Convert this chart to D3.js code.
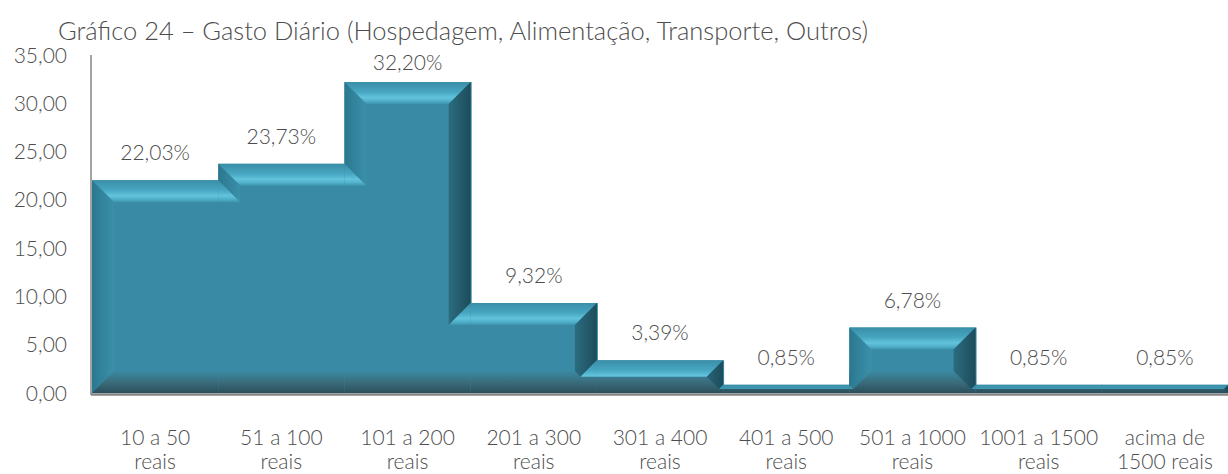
<!DOCTYPE html>
<html>
<head>
<meta charset="utf-8">
<script src="https://cdn.jsdelivr.net/npm/d3@7"></script>
<style>
  body { margin: 0; background: #fff; }
  text { font-family: Lato, "Open Sans", sans-serif; font-weight: 300; fill: #4d4d4d; }
</style>
</head>
<body>
<div id="chart"></div>
<script>
const categories = [
  "10 a 50\nreais", "51 a 100\nreais", "101 a 200\nreais", "201 a 300\nreais",
  "301 a 400\nreais", "401 a 500\nreais", "501 a 1000\nreais", "1001 a 1500\nreais",
  "acima de\n1500 reais"
];
const values = [22.03, 23.73, 32.20, 9.32, 3.39, 0.85, 6.78, 0.85, 0.85];
const yTicks = [0, 5, 10, 15, 20, 25, 30, 35];
const title = "Gráfico 24 – Gasto Diário (Hospedagem, Alimentação, Transporte, Outros)";

const W = 1228, H = 474;
const B = 22; // bevel size

const br = d3.formatLocale({ decimal: ",", thousands: ".", grouping: [3], currency: ["R$", ""] });
const fmtTick = br.format(".2f");
const fmtPct = br.format(".2f");

const svg = d3.select("#chart").append("svg")
  .attr("width", W)
  .attr("height", H);

const defs = svg.append("defs");

const x = d3.scaleBand()
  .domain(categories)
  .range([92, 1228])
  .padding(0);

const y = d3.scaleLinear()
  .domain([0, 35])
  .range([393, 55]);

// title
svg.append("text")
  .attr("x", 58)
  .attr("y", 40)
  .attr("font-size", 25.5)
  .text(title);

// y axis labels
svg.append("g")
  .selectAll("text")
  .data(yTicks)
  .join("text")
  .attr("x", 67)
  .attr("y", d => y(d) + 7.5)
  .attr("text-anchor", "end")
  .attr("font-size", 21)
  .text(d => fmtTick(d));

// keep f(p) >= 0
function clip(poly, f) {
  const out = [];
  for (let i = 0; i < poly.length; i++) {
    const a = poly[i], b = poly[(i + 1) % poly.length];
    const fa = f(a), fb = f(b);
    if (fa >= 0) out.push(a);
    if ((fa >= 0) !== (fb >= 0)) {
      const t = fa / (fa - fb);
      out.push([a[0] + t * (b[0] - a[0]), a[1] + t * (b[1] - a[1])]);
    }
  }
  return out;
}

let gid = 0;
function grad(x1, y1, x2, y2, stops) {
  const id = "g" + (gid++);
  const g = defs.append("linearGradient")
    .attr("id", id)
    .attr("gradientUnits", "userSpaceOnUse")
    .attr("x1", x1).attr("y1", y1).attr("x2", x2).attr("y2", y2);
  stops.forEach(s => g.append("stop").attr("offset", s[0]).attr("stop-color", s[1]));
  return `url(#${id})`;
}

const topStops = [[0, "#3a8ea8"], [0.45, "#47a6c1"], [0.7, "#62c3dd"], [0.85, "#52b1cb"], [1, "#3d93ad"]];
const leftStops = [[0, "#2a7890"], [1, "#3b90a9"]];
const rightStops = [[0, "#1d4c5a"], [1, "#2c6c80"]];
const bottomStops = [[0, "#2b4f5c"], [0.45, "#3a6a79"], [1, "#3a8aa3"]];
const faceColor = "#398ba5";

const n = values.length;
const yb = y(0);

// faces first, slightly overlapping the next band to avoid seams
svg.append("g")
  .selectAll("rect")
  .data(values)
  .join("rect")
  .attr("x", (d, i) => x(categories[i]))
  .attr("y", d => y(d))
  .attr("width", (d, i) => x.bandwidth() + (i < n - 1 ? 1 : 0))
  .attr("height", d => yb - y(d))
  .attr("fill", faceColor);

const bevels = svg.append("g");

values.forEach((v, i) => {
  const x0 = x(categories[i]), x1 = x0 + x.bandwidth();
  const yt = y(v);
  const tl = i > 0 ? y(values[i - 1]) : null;
  const tr = i < n - 1 ? y(values[i + 1]) : null;
  const leftOpen = i === 0 || tl > yt;
  const rightOpen = i === n - 1 || tr > yt;
  const rect = [[x0, yt], [x1, yt], [x1, yb], [x0, yb]];
  const draw = (poly, fill) => {
    if (poly.length > 2) bevels.append("path").attr("d", d3.line()(poly) + "Z").attr("fill", fill);
  };

  // bottom (superset, others paint over it)
  let p = clip(rect, q => q[1] - (yb - B));
  p = clip(p, q => 2 * q[1] - yb - yt);
  draw(p, grad(0, yb, 0, yb - B, bottomStops));

  // top
  p = clip(rect, q => B - (q[1] - yt));
  p = clip(p, q => (yb - q[1]) - (q[1] - yt));
  if (leftOpen) p = clip(p, q => (q[0] - x0) - (q[1] - yt));
  if (rightOpen) p = clip(p, q => (x1 - q[0]) - (q[1] - yt));
  draw(p, grad(0, yt, 0, yt + B, topStops));

  if (leftOpen) {
    p = clip(rect, q => B - (q[0] - x0));
    p = clip(p, q => (q[1] - yt) - (q[0] - x0));
    p = clip(p, q => (yb - q[1]) - (q[0] - x0));
    if (i > 0) p = clip(p, q => (q[0] - x0) - (q[1] - tl));
    draw(p, grad(x0, 0, x0 + B, 0, leftStops));
    if (i > 0) {
      p = clip(rect, q => (q[1] - tl) - (q[0] - x0));
      p = clip(p, q => B - (q[1] - tl));
      p = clip(p, q => (yb - q[1]) - (q[1] - tl));
      draw(p, grad(0, tl, 0, tl + B, topStops));
    }
  }
  if (rightOpen) {
    p = clip(rect, q => B - (x1 - q[0]));
    p = clip(p, q => (q[1] - yt) - (x1 - q[0]));
    p = clip(p, q => (yb - q[1]) - (x1 - q[0]));
    if (i < n - 1) p = clip(p, q => (x1 - q[0]) - (q[1] - tr));
    draw(p, grad(x1, 0, x1 - B, 0, rightStops));
    if (i < n - 1) {
      p = clip(rect, q => (q[1] - tr) - (x1 - q[0]));
      p = clip(p, q => B - (q[1] - tr));
      p = clip(p, q => (yb - q[1]) - (q[1] - tr));
      draw(p, grad(0, tr, 0, tr + B, topStops));
    }
  }
});

// axes lines
svg.append("line")
  .attr("x1", 91).attr("x2", 91)
  .attr("y1", 55).attr("y2", yb + 2)
  .attr("stroke", "#868686").attr("stroke-width", 1.5);
svg.append("line")
  .attr("x1", 91).attr("x2", W)
  .attr("y1", yb + 1.5).attr("y2", yb + 1.5)
  .attr("stroke", "#868686").attr("stroke-width", 2.5);

// value labels
svg.append("g")
  .selectAll("text")
  .data(values)
  .join("text")
  .attr("x", (d, i) => x(categories[i]) + x.bandwidth() / 2)
  .attr("y", d => Math.max(y(d) - 20, 70))
  .attr("text-anchor", "middle")
  .attr("font-size", 21)
  .text(d => fmtPct(d) + "%");

// category labels
const cat = svg.append("g")
  .selectAll("text")
  .data(categories)
  .join("text")
  .attr("x", d => x(d) + x.bandwidth() / 2)
  .attr("y", 445)
  .attr("text-anchor", "middle")
  .attr("font-size", 21);

cat.selectAll("tspan")
  .data(d => d.split("\n").map(t => ({ t, x: x(d) + x.bandwidth() / 2 })))
  .join("tspan")
  .attr("x", d => d.x)
  .attr("dy", (d, i) => i === 0 ? 0 : 24)
  .text(d => d.t);
</script>
</body>
</html>
